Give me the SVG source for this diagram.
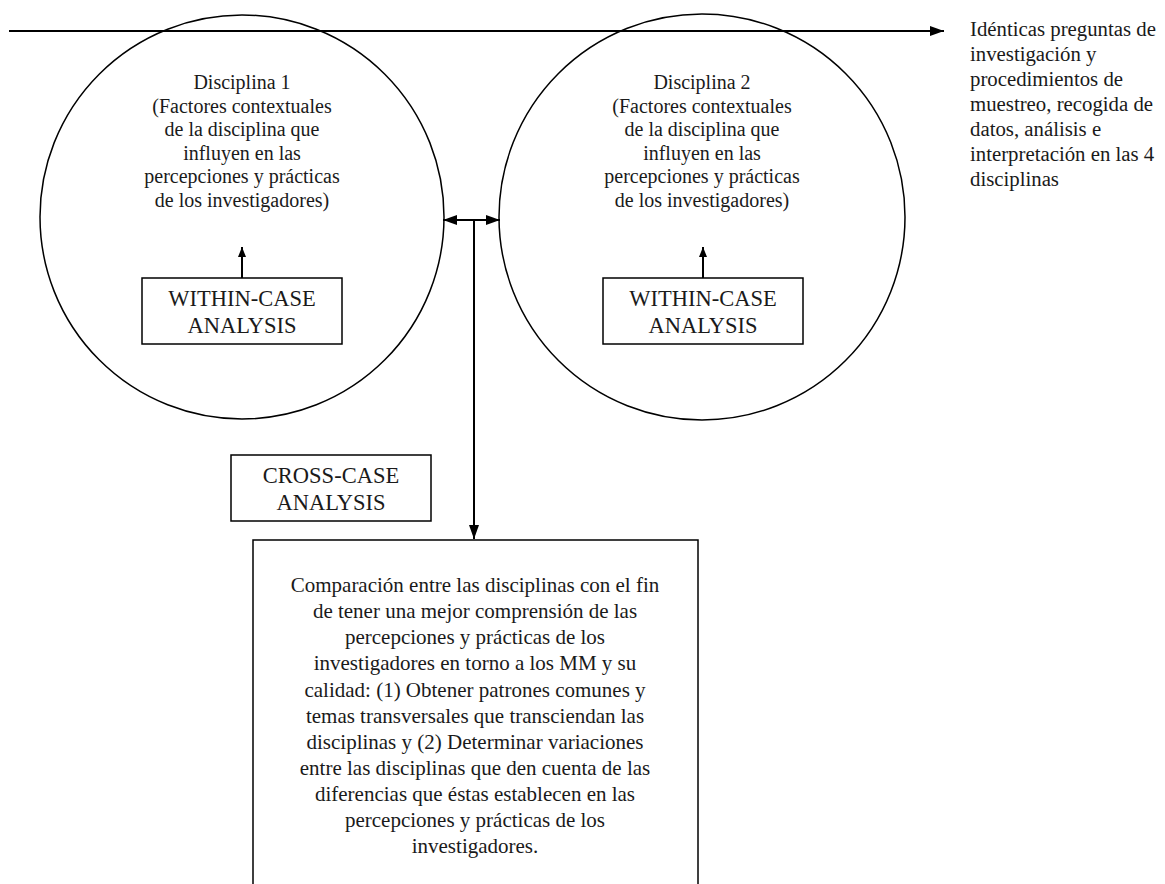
<svg xmlns="http://www.w3.org/2000/svg" width="1165" height="884" viewBox="0 0 1165 884">
<style>
text{font-family:"Liberation Serif","Times New Roman",serif;fill:#1a1a1a}
.c{text-anchor:middle;font-size:20px}
.k{text-anchor:middle;font-size:22.5px}
.b{text-anchor:middle;font-size:21px}
.r{font-size:20.8px}
.shape{fill:none;stroke:#000;stroke-width:1.5}
.ln{stroke:#000;stroke-width:2;fill:none}
</style>
<defs>
<marker id="ah" markerWidth="10" markerHeight="8" refX="10" refY="4" orient="auto-start-reverse" markerUnits="userSpaceOnUse"><path d="M0,0 L10,4 L0,8 Z" fill="#000"/></marker>
<marker id="ahB" markerWidth="14" markerHeight="10" refX="14" refY="5" orient="auto-start-reverse" markerUnits="userSpaceOnUse"><path d="M0,0 L14,5 L0,10 Z" fill="#000"/></marker>
</defs>
<rect width="1165" height="884" fill="#fff"/>
<g id="circle1">
<circle class="shape" cx="242" cy="217" r="202"/>
<text class="c"><tspan x="242" y="89">Disciplina 1</tspan><tspan x="242" y="112.5">(Factores contextuales</tspan><tspan x="242" y="136">de la disciplina que</tspan><tspan x="242" y="159.5">influyen en las</tspan><tspan x="242" y="183">percepciones y prácticas</tspan><tspan x="242" y="206.5">de los investigadores)</tspan></text>
</g>
<g id="circle2">
<circle class="shape" cx="702" cy="217" r="203"/>
<text class="c"><tspan x="702" y="89">Disciplina 2</tspan><tspan x="702" y="112.5">(Factores contextuales</tspan><tspan x="702" y="136">de la disciplina que</tspan><tspan x="702" y="159.5">influyen en las</tspan><tspan x="702" y="183">percepciones y prácticas</tspan><tspan x="702" y="206.5">de los investigadores)</tspan></text>
</g>
<g id="within1">
<rect class="shape" x="142" y="278" width="200" height="66"/>
<text class="k"><tspan x="242" y="306">WITHIN-CASE</tspan><tspan x="242" y="333">ANALYSIS</tspan></text>
</g>
<g id="within2">
<rect class="shape" x="603" y="278" width="200" height="66"/>
<text class="k"><tspan x="703" y="306">WITHIN-CASE</tspan><tspan x="703" y="333">ANALYSIS</tspan></text>
</g>
<g id="crosscase">
<rect class="shape" x="231" y="455" width="200" height="66"/>
<text class="k"><tspan x="331" y="483">CROSS-CASE</tspan><tspan x="331" y="510">ANALYSIS</tspan></text>
</g>
<g id="comparison">
<rect class="shape" x="253" y="540" width="445" height="360"/>
<text class="b"><tspan x="475" y="592">Comparación entre las disciplinas con el fin</tspan><tspan x="475" y="618">de tener una mejor comprensión de las</tspan><tspan x="475" y="644">percepciones y prácticas de los</tspan><tspan x="475" y="670">investigadores en torno a los MM y su</tspan><tspan x="475" y="697">calidad: (1) Obtener patrones comunes y</tspan><tspan x="475" y="723">temas transversales que transciendan las</tspan><tspan x="475" y="749">disciplinas y (2) Determinar variaciones</tspan><tspan x="475" y="775">entre las disciplinas que den cuenta de las</tspan><tspan x="475" y="801">diferencias que éstas establecen en las</tspan><tspan x="475" y="827">percepciones y prácticas de los</tspan><tspan x="475" y="853">investigadores.</tspan></text>
</g>
<g id="note">
<text class="r"><tspan x="970" y="36">Idénticas preguntas de</tspan><tspan x="970" y="61">investigación y</tspan><tspan x="970" y="86">procedimientos de</tspan><tspan x="970" y="111">muestreo, recogida de</tspan><tspan x="970" y="136">datos, análisis e</tspan><tspan x="970" y="161">interpretación en las 4</tspan><tspan x="970" y="186">disciplinas</tspan></text>
</g>
<g id="connectors">
<line class="ln" x1="9" y1="31" x2="944" y2="31" marker-end="url(#ahB)"/>
<line class="ln" x1="443" y1="220" x2="500" y2="220" marker-start="url(#ahB)" marker-end="url(#ahB)"/>
<line class="ln" x1="474" y1="220" x2="474" y2="539" marker-end="url(#ahB)"/>
<line class="ln" x1="242" y1="278" x2="242" y2="247" marker-end="url(#ah)"/>
<line class="ln" x1="703" y1="278" x2="703" y2="247" marker-end="url(#ah)"/>
</g>
</svg>
